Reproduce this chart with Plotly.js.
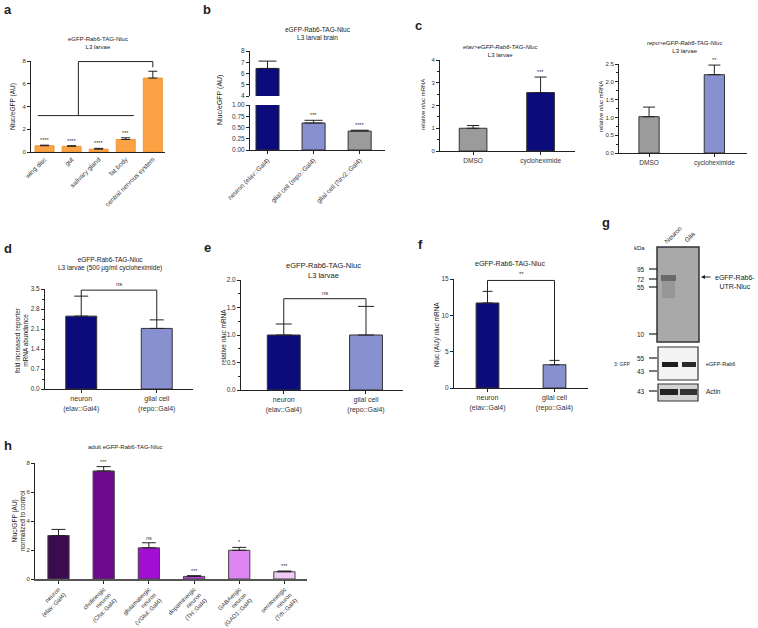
<!DOCTYPE html>
<html><head><meta charset="utf-8">
<script src="https://cdn.plot.ly/plotly-3.0.1.min.js"></script>
<style>body{margin:0;background:#fff}#chart{width:758px;height:628px}</style>
</head><body><div id="chart"></div>
<script>
// ---------- data ----------
const aCats = ['wing disc','gut','salivary gland','fat body','central nervous system'];
const aVals = [0.55,0.5,0.25,1.1,6.5];
const aErr  = [0.05,0.05,0.07,0.15,0.6];
const aSig  = ['****','****','****','***',''];

const bCats = ['neuron (elav::Gal4)','glial cell (repo::Gal4)','glial cell (Nrv2::Gal4)'];
const bVals = [6.45,0.6,0.42];
const bErr  = [0.65,0.06,0.02];
const bSig  = ['','***','****'];

const cCats = ['DMSO','cycloheximide'];
const cElavVals = [1.0,2.57];
const cElavErr  = [0.12,0.68];
const cElavSig  = ['','***'];
const cRepoVals = [1.02,2.2];
const cRepoErr  = [0.27,0.27];
const cRepoSig  = ['','**'];

const cellCats = ['neuron<br>(elav::Gal4)','glial cell<br>(repo::Gal4)'];
const dVals = [2.55,2.12];
const dErr  = [0.7,0.3];
const eVals = [1.0,1.0];
const eErr  = [0.2,0.52];
const fVals = [11.7,3.2];
const fErr  = [1.6,0.6];

const hCats = ['neuron<br>(elav::Gal4)','cholinergic<br>neuron<br>(Cha::Gal4)','glutamatergic<br>neuron<br>(VGlut::Gal4)','dopaminergic<br>neuron<br>(TH::Gal4)','GABAergic<br>neuron<br>(GAD1::Gal4)','serotonergic<br>neuron<br>(Trh::Gal4)'];
const hVals = [3.0,7.45,2.15,0.18,1.98,0.5];
const hErr  = [0.42,0.3,0.35,0.05,0.2,0.05];
const hSig  = ['','***','ns','***','*','***'];

// ---------- styles ----------
const NAVY='#0b0b7c', LBLUE='#8890cf', GRAY='#9b9b9b', ORANGE='#fba244';
const hColors=['#3b0a4f','#6e0a8e','#a30fd2','#b845d9','#df85f2','#f1cbf7'];
const FONT='Arial, Liberation Sans, sans-serif';
const W=758,H=628;
const X=p=>p/W, Y=p=>1-p/H;

function barTrace(xa,ya,cats,vals,errs,colors,width,lineColor,capW){
  const t={type:'bar',x:cats,y:vals,xaxis:xa,yaxis:ya,width:width,hoverinfo:'skip',
    marker:{color:colors,line:{color:lineColor,width:1}}};
  if(errs) t.error_y={type:'data',symmetric:false,array:errs,arrayminus:errs.map(()=>0),color:'#222',thickness:1,width:capW};
  return t;
}
const traces=[
  barTrace('x','y',aCats,aVals,aErr,ORANGE,0.7,'#f09434',4.5),
  barTrace('x2','y2',bCats,bVals,[bErr[0],0,0],[NAVY,LBLUE,GRAY],0.5,'#333',9),
  barTrace('x2','y3',bCats,bVals,[0,bErr[1],bErr[2]],[NAVY,LBLUE,GRAY],0.5,'#333',9),
  barTrace('x3','y4',cCats,cElavVals,cElavErr,[GRAY,NAVY],0.41,'#333',6),
  barTrace('x4','y5',cCats,cRepoVals,cRepoErr,[GRAY,LBLUE],0.31,'#333',6),
  barTrace('x5','y6',cellCats,dVals,dErr,[NAVY,LBLUE],0.41,'#333',7),
  barTrace('x6','y7',cellCats,eVals,eErr,[NAVY,LBLUE],0.4,'#333',8),
  barTrace('x7','y8',cellCats,fVals,fErr,[NAVY,LBLUE],0.34,'#333',5),
  barTrace('x8','y9',hCats,hVals,hErr,hColors,0.47,'#444',7)
];

const axC={showline:true,linecolor:'#222',linewidth:1,ticks:'outside',ticklen:3,tickwidth:1,tickcolor:'#222',
  tickfont:{size:6,color:'#333',family:FONT},showgrid:false,zeroline:false,fixedrange:true};
function xa(d0,d1,r,anchor,extra){return Object.assign({},axC,{domain:[X(d0),X(d1)],range:r,anchor:anchor,type:'category'},extra||{});}
function ya(top,bot,r,dtick,anchor,extra){return Object.assign({},axC,{domain:[Y(bot),Y(top)],range:r,dtick:dtick,anchor:anchor},extra||{});}
const F7={size:7,color:'#333',family:FONT}, F65={size:6.5,color:'#333',family:FONT};

const layout={
  width:W,height:H,margin:{l:0,r:0,t:0,b:0},paper_bgcolor:'#fff',plot_bgcolor:'rgba(0,0,0,0)',
  showlegend:false,font:{family:FONT,color:'#222'},bargap:0,
  xaxis: xa(31,165,[-0.5,4.45],'y',{tickangle:-45,ticks:'',tickfont:F65}),
  yaxis: ya(61,152,[0,8],2,'x'),
  xaxis2: xa(250,385,[-0.38,2.55],'y3',{tickangle:-45,tickfont:F65}),
  yaxis2: ya(51,96,[4,8],1,'x2',{tickfont:F65}),
  yaxis3: ya(105,150,[0,1],0.25,'x2',{tickformat:'.2f',tickfont:F65}),
  xaxis3: xa(440,575,[-0.49,1.51],'y4',{tickfont:F65}),
  yaxis4: ya(60,151,[0,4],1,'x3',{minor:{ticks:'outside',dtick:0.5,ticklen:2,tickcolor:'#222'}}),
  xaxis4: xa(619,747,[-0.46,1.5],'y5',{tickfont:F65}),
  yaxis5: ya(64,153,[0,2.5],0.5,'x4',{tickformat:'.1f',minor:{ticks:'outside',dtick:0.25,ticklen:2,tickcolor:'#222'}}),
  xaxis5: xa(45,193,[-0.48,1.48],'y6',{tickfont:F7}),
  yaxis6: ya(289,389,[0,3.5],0.7,'x5',{tickformat:'.1f',tickfont:F65,minor:{ticks:'outside',dtick:0.35,ticklen:2,tickcolor:'#222'}}),
  xaxis6: xa(241,403,[-0.52,1.45],'y7',{tickfont:F7}),
  yaxis7: ya(280,390,[0,2],0.5,'x6',{tickformat:'.1f',tickfont:F65,minor:{ticks:'outside',dtick:0.25,ticklen:2,tickcolor:'#222'}}),
  xaxis7: xa(454,588,[-0.5,1.5],'y8',{tickfont:F7}),
  yaxis8: ya(279,388,[0,15],5,'x7',{tickfont:F65}),
  xaxis8: xa(35,307,[-0.52,5.5],'y9',{tickangle:-45,linecolor:'#555',linewidth:1.5}),
  yaxis9: ya(463,579,[0,8],2,'x8'),
  shapes:[],annotations:[]
};

const S=layout.shapes, A=layout.annotations;
function dline(xr,yr,x0,y0,x1,y1){S.push({type:'line',xref:xr,yref:yr,x0:x0,y0:y0,x1:x1,y1:y1,line:{color:'#222',width:1}});}
function bracket(xr,yr,vals,errs,top,label){
  dline(xr,yr,0,vals[0]+errs[0],0,top); dline(xr,yr,0,top,1,top); dline(xr,yr,1,top,1,vals[1]+errs[1]);
  if(label) A.push({xref:xr,yref:yr,x:0.5,y:top,text:label,showarrow:false,xanchor:'center',yanchor:'bottom',yshift:1,font:{size:6,color:'#333'}});
}
function sigs(xr,yr,cats,vals,errs,sg){
  cats.forEach((c,i)=>{ if(sg[i]) A.push({xref:xr,yref:yr,x:i,y:vals[i]+errs[i],text:sg[i],showarrow:false,xanchor:'center',yanchor:'bottom',yshift:0,font:{size:5.5,color:'#333'}}); });
}
// panel a bracket
dline('x','y',-0.25,3.2,3.3,3.2); dline('x','y',1.25,3.2,1.25,7.95); dline('x','y',1.25,7.95,4,7.95); dline('x','y',4,7.95,4,aVals[4]+aErr[4]+0.35);
sigs('x','y',aCats,aVals,aErr,aSig);
sigs('x2','y3',bCats,bVals,bErr,bSig);
sigs('x3','y4',cCats,cElavVals,cElavErr,cElavSig);
sigs('x4','y5',cCats,cRepoVals,cRepoErr,cRepoSig);
bracket('x5','y6',dVals,dErr,3.46,'ns');
bracket('x6','y7',eVals,eErr,1.66,'ns');
bracket('x7','y8',fVals,fErr,14.8,'**');
sigs('x8','y9',hCats,hVals,hErr,hSig);

// paper-space text
function ptxt(x,y,t,size,extra){A.push(Object.assign({xref:'paper',yref:'paper',x:X(x),y:Y(y),text:t,showarrow:false,xanchor:'center',yanchor:'middle',font:{size:size,color:'#222',family:FONT}},extra||{}));}
// panel letters
[['a',8,10],['b',207,9],['c',418,25],['d',8,248],['e',207,247],['f',420,244],['g',606,223],['h',8,445]].forEach(p=>ptxt(p[1],p[2],'<b>'+p[0]+'</b>',13));
// titles
ptxt(98,43,'eGFP-Rab6-TAG-Nluc<br>L3 larvae',6);
ptxt(318,33,'eGFP-Rab6-TAG-Nluc<br>L3 larval brain',6.5);
ptxt(500,51,'<i>elav&gt;eGFP-Rab6-TAG-Nluc</i><br>L3 larvae',6);
ptxt(684,47,'<i>repo&gt;eGFP-Rab6-TAG-Nluc</i><br>L3 larvae',6);
ptxt(110,264,'eGFP-Rab6-TAG-Nluc<br>L3 larvae (500 µg/ml cycloheximide)',6.5);
ptxt(323,270,'eGFP-Rab6-TAG-Nluc<br>L3 larvae',7.5);
ptxt(510,263,'eGFP-Rab6-TAG-Nluc',7);
ptxt(125,447,'adult eGFP-Rab6-TAG-Nluc',6);
// y titles
ptxt(13,107,'Nluc/eGFP (AU)',6.5,{textangle:-90});
ptxt(220,100,'Nluc/eGFP (AU)',7,{textangle:-90});
ptxt(423,105,'relative <i>nluc</i> mRNA',6,{textangle:-90});
ptxt(601,107,'relative <i>nluc</i> mRNA',6,{textangle:-90});
ptxt(21,340,'fold increased reporter<br>mRNA abundance',6.5,{textangle:-90});
ptxt(223,337,'relative <i>nluc</i> mRNA',6.5,{textangle:-90});
ptxt(437,335,'Nluc (AU)/ <i>nluc</i> mRNA',6.5,{textangle:-90});
ptxt(18,521,'Nluc/GFP (AU)<br>normalized to control',6.5,{textangle:-90});

// ---------- panel g: western blot illustration ----------
function prect(x0,y0,x1,y1,fill,lc,lw){S.push({type:'rect',xref:'paper',yref:'paper',x0:X(x0),x1:X(x1),y0:Y(y1),y1:Y(y0),fillcolor:fill,line:{color:lc||'rgba(0,0,0,0)',width:lw||0},layer:'above'});}
function pl(x0,y0,x1,y1,w){S.push({type:'line',xref:'paper',yref:'paper',x0:X(x0),x1:X(x1),y0:Y(y0),y1:Y(y1),line:{color:'#222',width:w||1}});}
prect(657,247,699,342,'#a9a9a9','#333',1.5);
prect(661,275,676,281,'#6a6a6a');
prect(662,281,675,298,'#979797');
prect(658,347,698,380,'#f3f3f3','#333',1.2);
prect(662,362,678,367,'#1c1c1c');
prect(682,362,696,367,'#2a2a2a');
prect(658,384,698,401,'#d4d4d4','#333',1.2);
prect(660,389,678,395,'#222');
prect(680,389,697,395,'#333');
[[269,'95'],[279,'72'],[287,'55'],[334,'10'],[358,'55'],[371,'43'],[391,'43']].forEach(m=>{pl(649,m[0],657,m[0],1.2);ptxt(647,m[0],m[1],6.5,{xanchor:'right'});});
ptxt(639,248,'kDa',6);
ptxt(673,234,'Neuron',6.5,{textangle:-45});
ptxt(690,237,'Glia',6.5,{textangle:-45});
A.push({xref:'paper',yref:'paper',x:X(701),y:Y(277),ax:11,ay:0,text:'',showarrow:true,arrowhead:2,arrowsize:0.8,arrowwidth:1,arrowcolor:'#222'});
ptxt(735,282,'eGFP-Rab6-<br>UTR-Nluc',7);
ptxt(704,364,'eGFP-Rab6',5.5,{xanchor:'left'});
ptxt(704,391,'Actin',6.5,{xanchor:'left'});
ptxt(622,364,'3: GFP',5);

Plotly.newPlot('chart',traces,layout,{staticPlot:true});
</script></body></html>
